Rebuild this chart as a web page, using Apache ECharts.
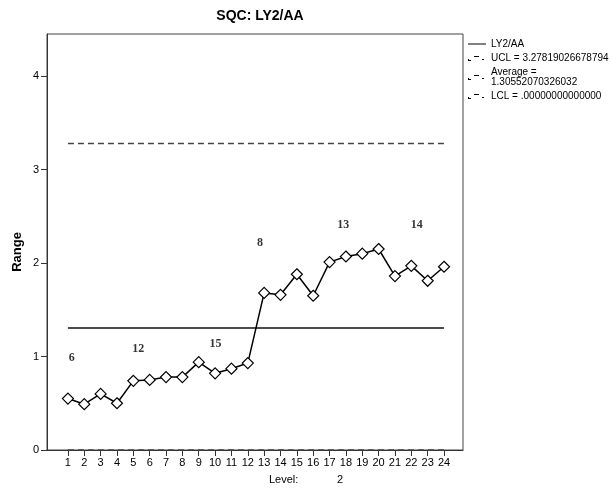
<!DOCTYPE html>
<html>
<head>
<meta charset="utf-8">
<script src="https://cdn.jsdelivr.net/npm/echarts@6/dist/echarts.min.js"></script>
<style>
html,body{margin:0;padding:0;background:#fff;}
#chart{width:612px;height:491px;}
</style>
</head>
<body>
<div id="chart"></div>
<script>
// ---- data ----
var levels = [1,2,3,4,5,6,7,8,9,10,11,12,13,14,15,16,17,18,19,20,21,22,23,24];
var rangeValues = [0.55,0.49,0.60,0.50,0.74,0.75,0.78,0.78,0.94,0.82,0.87,0.93,1.68,1.66,1.88,1.65,2.01,2.07,2.10,2.15,1.86,1.97,1.81,1.96];
var ucl = 3.27819026678794;
var average = 1.30552070326032;
var lcl = 0;
var yTicks = [0,1,2,3,4];
var annotText = ['6','12','15','8','13','14'];
var annotX = [1.23,5.30,10.03,12.74,17.84,22.33];
var annotY = [0.99,1.08,1.14,2.22,2.41,2.41];
var seriesNames = ['LY2/AA','UCL = 3.27819026678794','Average =\n1.30552070326032','LCL = .00000000000000'];

var FONT = "'Liberation Sans', Arial, sans-serif";
var first = levels[0], last = levels[levels.length-1];
function flat(v){ return [[first, v],[last, v]]; }

var chart = echarts.init(document.getElementById('chart'), null, {renderer:'canvas'});
var dashPath = 'path://M0,0M18,8M0,5h1v2h-1z M0,6h3v1h-3z M6,2h5v1h-5z M14,5h2v1h-2z';
var solidPath = 'path://M0,0M18,8M0,3.5h18v1h-18z';
var option = {
  animation: false,
  backgroundColor: '#fff',
  title: [
    {text: 'SQC: LY2/AA', left: 255, textAlign: 'center', top: 4,
     textStyle: {fontFamily: FONT, fontSize: 14, fontWeight: 'bold', color: '#000'}},
    {text: 'Level:', left: 264, top: 469,
     textStyle: {fontFamily: FONT, fontSize: 11, fontWeight: 'normal', color: '#000'}},
    {text: '2', left: 332, top: 469,
     textStyle: {fontFamily: FONT, fontSize: 11, fontWeight: 'normal', color: '#000'}}
  ],
  graphic: [
    {type: 'text', x: 17, y: 252, rotation: Math.PI / 2,
     style: {text: 'Range', fontFamily: FONT, fontSize: 13, fontWeight: 'bold', fill: '#000',
             align: 'center', verticalAlign: 'middle'}}
  ],
  legend: {
    orient: 'vertical', left: 463, top: 34, itemGap: 4,
    itemWidth: 18, itemHeight: 8,
    textStyle: {fontFamily: FONT, fontSize: 10, color: '#000', lineHeight: 10},
    data: [
      {name: seriesNames[0], icon: solidPath, itemStyle: {color: '#000', borderWidth: 0}, lineStyle: {opacity: 0}},
      {name: seriesNames[1], icon: dashPath, itemStyle: {color: '#000', borderWidth: 0}, lineStyle: {opacity: 0}},
      {name: seriesNames[2], icon: dashPath, itemStyle: {color: '#000', borderWidth: 0}, lineStyle: {opacity: 0}},
      {name: seriesNames[3], icon: dashPath, itemStyle: {color: '#000', borderWidth: 0}, lineStyle: {opacity: 0}}
    ],
    selectedMode: false
  },
  grid: {left: 47, right: 149, top: 34, bottom: 41, show: true, borderColor: '#444', borderWidth: 1},
  xAxis: {
    type: 'value', min: -0.28, max: 25.16,
    axisLine: {show: true, onZero: false, lineStyle: {color: '#333', width: 1}},
    axisTick: {show: true, length: 6, inside: false, customValues: levels, lineStyle: {color: '#333'}},
    axisLabel: {customValues: levels, fontFamily: FONT, fontSize: 11, color: '#000', margin: 7},
    splitLine: {show: false}
  },
  yAxis: {
    type: 'value', min: 0, max: 4.45,
    axisLine: {show: true, onZero: false, lineStyle: {color: '#333', width: 1}},
    axisTick: {show: true, length: 6, customValues: yTicks, lineStyle: {color: '#333'}},
    axisLabel: {customValues: yTicks, fontFamily: FONT, fontSize: 11, color: '#000', margin: 8},
    splitLine: {show: false}
  },
  series: [
    {
      name: seriesNames[1], type: 'line', data: flat(ucl), symbol: 'none',
      lineStyle: {color: '#444', width: 1.5, type: [6, 4]}, z: 2
    },
    {
      name: seriesNames[2], type: 'line', data: flat(average), symbol: 'none',
      lineStyle: {color: '#111', width: 1.5, type: 'solid'}, z: 2
    },
    {
      name: seriesNames[3], type: 'line', data: flat(lcl), symbol: 'none',
      lineStyle: {color: '#444', width: 1.5, type: [6, 4]}, z: 2
    },
    {
      name: seriesNames[0], type: 'line',
      data: levels.map(function(l, i){ return [l, rangeValues[i]]; }),
      symbol: 'diamond', symbolSize: [11, 11], showSymbol: true,
      itemStyle: {color: '#fff', borderColor: '#000', borderWidth: 1.2},
      lineStyle: {color: '#000', width: 1.5}, z: 3
    },
    {
      name: 'annot', type: 'scatter', symbolSize: 0,
      data: annotX.map(function(x, i){ return {value: [x, annotY[i]], label: {formatter: annotText[i]}}; }),
      label: {show: true, position: 'inside', fontFamily: "'Liberation Serif', 'Times New Roman', serif",
              fontSize: 12, fontWeight: 'bold', color: '#000'},
      silent: true, z: 4
    }
  ]
};
chart.setOption(option);
</script>
</body>
</html>
